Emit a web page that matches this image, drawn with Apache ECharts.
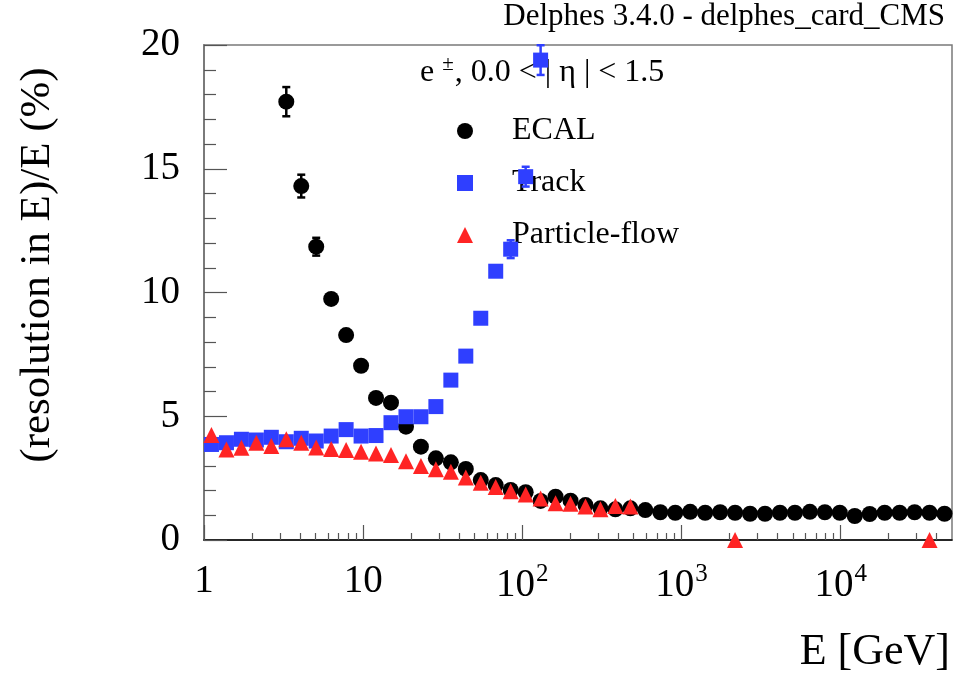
<!DOCTYPE html>
<html>
<head>
<meta charset="utf-8">
<script src="https://cdn.jsdelivr.net/npm/echarts@6/dist/echarts.min.js"></script>
<style>
  html, body { margin: 0; padding: 0; background: #ffffff; }
  #chart { width: 955px; height: 674px; }
</style>
</head>
<body>
<div id="chart"></div>
<script>
// Bin centres of the energy scan (GeV), logarithmic binning
const energies = [1.114, 1.384, 1.718, 2.133, 2.648, 3.288, 4.083, 5.069, 6.293, 7.813,
  9.701, 12.04, 14.95, 18.57, 23.05, 28.62, 35.54, 44.12, 54.78, 68.01,
  84.45, 104.9, 130.2, 161.6, 200.7, 249.2, 309.4, 384.1, 476.9, 592.2,
  735.3, 912.9, 1133, 1407, 1747, 2169, 2694, 3344, 4152, 5155,
  6401, 7947, 9865, 12250, 15210, 18880, 23450, 29110, 36140, 44870];

// Relative energy resolution (%) per bin
const ecalRes = [null, null, null, null, null,
  17.71, 14.30, 11.85, 9.74, 8.28,
  7.04, 5.74, 5.55, 4.58, 3.77,
  3.30, 3.14, 2.87, 2.42, 2.22,
  2.02, 1.93, 1.58, 1.75, 1.59,
  1.41, 1.28, 1.24, 1.28, 1.21,
  1.12, 1.10, 1.14, 1.10, 1.12,
  1.10, 1.06, 1.06, 1.10, 1.10,
  1.14, 1.12, 1.10, 0.97, 1.05,
  1.10, 1.10, 1.12, 1.10, 1.06];
const ecalErr = [null, null, null, null, null,
  0.59, 0.46, 0.36, null, null,
  null, null, null, null, null, null, null, null, null, null,
  null, null, null, null, null, null, null, null, null, null,
  null, null, null, null, null, null, null, null, null, null,
  null, null, null, null, null, null, null, null, null, null];

const trackRes = [3.86, 3.93, 4.07, 4.04, 4.15,
  3.97, 4.11, 4.00, 4.20, 4.46,
  4.20, 4.22, 4.74, 4.98, 4.98,
  5.39, 6.46, 7.43, 8.96, 10.86,
  11.75, 14.68, 19.39, null, null,
  null, null, null, null, null, null, null, null, null, null,
  null, null, null, null, null, null, null, null, null, null,
  null, null, null, null, null];
const trackErr = [null, null, null, null, null, null, null, null, null, null,
  null, null, null, null, null, null, null, null, null, null,
  0.36, 0.40, 0.60, null, null, null, null, null, null, null,
  null, null, null, null, null, null, null, null, null, null,
  null, null, null, null, null, null, null, null, null, null];

const pflowRes = [4.24, 3.66, 3.73, 3.93, 3.80,
  4.07, 3.93, 3.74, 3.68, 3.64,
  3.57, 3.50, 3.43, 3.18, 2.99,
  2.86, 2.76, 2.53, 2.31, 2.14,
  1.97, 1.84, 1.68, 1.48, 1.46,
  1.35, 1.24, 1.37, 1.35, null,
  null, null, null, null, null,
  0, null, null, null, null,
  null, null, null, null, null,
  null, null, null, 0, null];

const xMajorTicks = [1, 10, 100, 1000, 10000];
const xMinorTicks = [2, 3, 4, 5, 6, 7, 8, 9,
  20, 30, 40, 50, 60, 70, 80, 90,
  200, 300, 400, 500, 600, 700, 800, 900,
  2000, 3000, 4000, 5000, 6000, 7000, 8000, 9000,
  20000, 30000, 40000];

const SERIF = "'Liberation Serif', 'Times New Roman', 'DejaVu Serif', serif";
const BLACK = '#000000';
const BLUE = '#2f3fff';
const RED = '#ff2424';

function points(vals) {
  const out = [];
  energies.forEach((e, i) => { if (vals[i] != null) out.push([e, vals[i]]); });
  return out;
}

function errorBars(vals, errs, color, z) {
  const data = [];
  energies.forEach((e, i) => {
    if (vals[i] != null && errs[i] != null) data.push([e, vals[i], errs[i]]);
  });
  return {
    type: 'custom',
    silent: true,
    clip: false,
    z: z,
    data: data,
    encode: { x: 0, y: 1 },
    renderItem: function (params, api) {
      const x = api.value(0), y = api.value(1), err = api.value(2);
      const hi = api.coord([x, y + err]);
      const lo = api.coord([x, y - err]);
      const cap = 4;
      const st = { stroke: color, lineWidth: 2.5 };
      return {
        type: 'group',
        children: [
          { type: 'line', shape: { x1: hi[0], y1: hi[1], x2: lo[0], y2: lo[1] }, style: st },
          { type: 'line', shape: { x1: hi[0] - cap, y1: hi[1], x2: hi[0] + cap, y2: hi[1] }, style: st },
          { type: 'line', shape: { x1: lo[0] - cap, y1: lo[1], x2: lo[0] + cap, y2: lo[1] }, style: st }
        ]
      };
    }
  };
}

const chart = echarts.init(document.getElementById('chart'), null, { renderer: 'canvas' });

const option = {
  backgroundColor: '#ffffff',
  animation: false,
  textStyle: { fontFamily: SERIF },
  grid: {
    left: 204, right: 3, top: 45, bottom: 134,
    show: true, borderColor: '#7a7a7a', borderWidth: 1.5,
    backgroundColor: 'transparent',
    outerBoundsMode: 'none',
    containLabel: false
  },
  xAxis: [
    {
      type: 'log', logBase: 10, min: 1, max: 50000,
      axisLine: { show: true, onZero: false, lineStyle: { color: '#000', width: 1.5 } },
      axisTick: { show: true, inside: true, length: 15, customValues: xMajorTicks,
        lineStyle: { color: '#555', width: 1.2 } },
      minorTick: { show: false },
      splitLine: { show: false },
      axisLabel: {
        customValues: xMajorTicks,
        margin: 22,
        color: '#000', fontSize: 39, fontFamily: SERIF,
        formatter: function (v) {
          const p = Math.round(Math.log10(v));
          if (Math.abs(Math.log10(v) - p) > 1e-6) return '';
          if (p === 0) return '1';
          if (p === 1) return '10';
          return '10{sup|' + p + '}';
        },
        rich: {
          sup: { fontSize: 25, fontFamily: SERIF, color: '#000', padding: [0, 0, 22, 1] }
        }
      }
    },
    {
      type: 'log', logBase: 10, min: 1, max: 50000,
      position: 'bottom',
      axisLine: { show: false },
      axisTick: { show: true, inside: true, length: 7, customValues: xMinorTicks,
        lineStyle: { color: '#555', width: 1.2 } },
      axisLabel: { show: false },
      splitLine: { show: false }
    }
  ],
  yAxis: {
    type: 'value', min: 0, max: 20, interval: 5,
    axisLine: { show: true, lineStyle: { color: '#7a7a7a', width: 2 } },
    axisTick: { show: true, inside: true, length: 23, lineStyle: { color: '#555', width: 1.2 } },
    minorTick: { show: true, splitNumber: 5, length: 12, lineStyle: { color: '#555', width: 1.2 } },
    splitLine: { show: false },
    axisLabel: { margin: 24, color: '#000', fontSize: 39, fontFamily: SERIF }
  },
  legend: {
    orient: 'vertical',
    left: 452, top: 110,
    itemWidth: 16, itemHeight: 16,
    itemGap: 20,
    selectedMode: false,
    textStyle: { fontFamily: SERIF, fontSize: 32, color: '#000', padding: [0, 0, 0, 34] },
    data: [
      { name: 'ECAL', icon: 'circle' },
      { name: 'Track', icon: 'rect' },
      { name: 'Particle-flow', icon: 'triangle' }
    ]
  },
  graphic: [
    {
      type: 'text', right: 10, top: 1,
      style: { text: 'Delphes 3.4.0 - delphes_card_CMS', font: '31px ' + SERIF, fill: '#000' }
    },
    {
      type: 'text', left: 420, top: 54,
      style: {
        text: 'e {sup|±}, 0.0 < | η | < 1.5',
        font: '32px ' + SERIF, fill: '#000',
        rich: { sup: { fontSize: 21, fontFamily: SERIF, fill: '#000', padding: [0, 1, 16, 0] } }
      }
    },
    {
      type: 'text', x: 38, y: 265, rotation: Math.PI / 2,
      style: {
        text: '(resolution in E)/E (%)', font: '43px ' + SERIF, fill: '#000',
        align: 'center', verticalAlign: 'middle'
      }
    },
    {
      type: 'text', x: 950, y: 652,
      style: {
        text: 'E [GeV]', font: '44px ' + SERIF, fill: '#000',
        align: 'right', verticalAlign: 'middle'
      }
    }
  ],
  series: [
    errorBars(ecalRes, ecalErr, BLACK, 2),
    {
      name: 'ECAL', type: 'scatter', symbol: 'circle', symbolSize: 16, z: 3, clip: false,
      itemStyle: { color: BLACK, opacity: 1 },
      data: points(ecalRes)
    },
    errorBars(trackRes, trackErr, BLUE, 4),
    {
      name: 'Track', type: 'scatter', symbol: 'rect', symbolSize: 15, z: 5, clip: false,
      itemStyle: { color: BLUE, opacity: 1 },
      data: points(trackRes)
    },
    {
      name: 'Particle-flow', type: 'scatter', symbol: 'triangle', symbolSize: 16, z: 6, clip: false,
      itemStyle: { color: RED, opacity: 1 },
      data: points(pflowRes)
    }
  ]
};

chart.setOption(option);
</script>
</body>
</html>
